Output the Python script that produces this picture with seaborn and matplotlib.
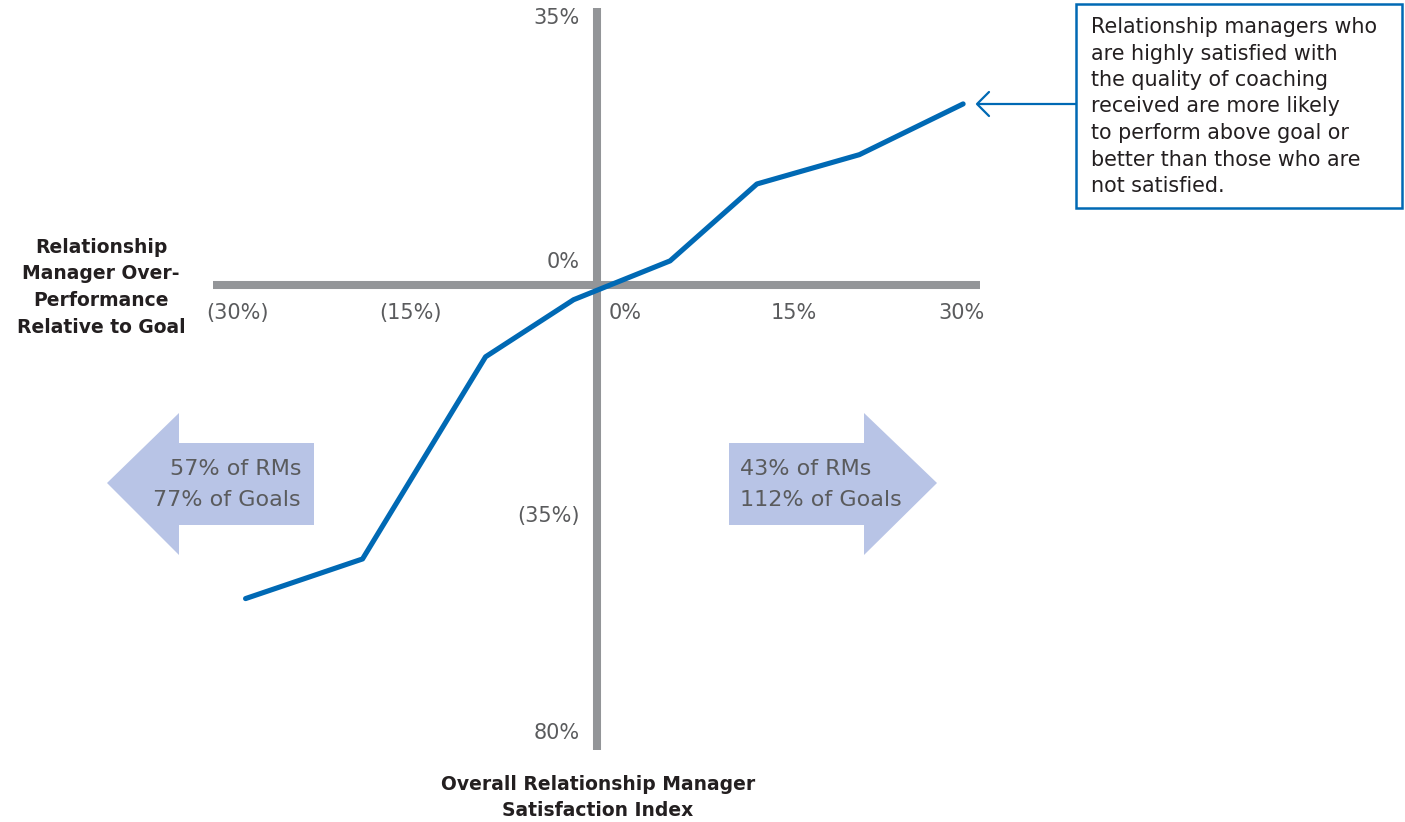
import matplotlib
matplotlib.use("Agg")
import matplotlib.pyplot as plt
import pandas as pd
import seaborn as sns
from matplotlib.patches import Polygon, Rectangle

# Satisfaction index (x, %) against over-performance relative to goal (y, %)
satisfaction = [-29.1, -19.4, -9.2, -1.9, 6.1, 13.3, 21.8, 30.4]
over_performance = [-39.5, -34.5, -9.0, -1.8, 3.1, 12.8, 16.5, 22.9]

x_tick_labels = ["(30%)", "(15%)", "0%", "15%", "30%"]
y_tick_labels = ["35%", "0%", "(35%)", "80%"]

left_group = ["57% of RMs", "77% of Goals"]
right_group = ["43% of RMs", "112% of Goals"]

y_title = ["Relationship", "Manager Over-", "Performance", "Relative to Goal"]
x_title = ["Overall Relationship Manager", "Satisfaction Index"]

callout_lines = [
    "Relationship managers who",
    "are highly satisfied with",
    "the quality of coaching",
    "received are more likely",
    "to perform above goal or",
    "better than those who are",
    "not satisfied.",
]

# ---- layout (pixels of the 1405 x 822 canvas) ----
W, H = 1405, 822
XLIM = (-31.8, 31.8)
YLIM = (-58.6, 35.0)
x_label_pos = [-29.8, -15.4, 2.4, 16.4, 30.3]
y_label_pos = [33.7, 2.9, -29.1, -56.4]

BLUE = "#0069b4"
GREY = "#939598"
ARROW_FILL = "#b8c4e6"
TEXT = "#231f20"
NUM = "#5a5b5d"

sns.set_theme(style="white")
plt.rcParams["font.family"] = ["DejaVu Sans"]

fig = plt.figure(figsize=(W / 100, H / 100), dpi=100)
fig.patch.set_facecolor("white")

ax = fig.add_axes([213 / W, (H - 750) / H, (980 - 213) / W, (750 - 8) / H])
ax.set_xlim(*XLIM)
ax.set_ylim(*YLIM)
ax.axis("off")

# quadrant axes
ax.plot(XLIM, [0, 0], color=GREY, lw=5.8, solid_capstyle="butt", zorder=1, clip_on=False)
ax.plot([0, 0], YLIM, color=GREY, lw=5.8, solid_capstyle="butt", zorder=1, clip_on=False)

df = pd.DataFrame({"satisfaction": satisfaction, "over_performance": over_performance})
sns.lineplot(data=df, x="satisfaction", y="over_performance", ax=ax, sort=False,
             color=BLUE, lw=3.7, zorder=3, clip_on=False)

for lab, xp in zip(x_tick_labels, x_label_pos):
    ax.text(xp, -3.5, lab, ha="center", va="center", fontsize=15, color=NUM)
for lab, yp in zip(y_tick_labels, y_label_pos):
    ax.text(-1.37, yp, lab, ha="right", va="center", fontsize=15, color=NUM)

# overlay in pixel coordinates for annotations
ov = fig.add_axes([0, 0, 1, 1])
ov.set_xlim(0, W)
ov.set_ylim(H, 0)
ov.axis("off")

left_arrow = [(107, 483), (179, 413), (179, 443), (314, 443), (314, 525),
              (179, 525), (179, 555)]
right_arrow = [(729, 443), (864, 443), (864, 413), (937, 483), (864, 555),
               (864, 525), (729, 525)]
ov.add_patch(Polygon(left_arrow, closed=True, facecolor=ARROW_FILL, edgecolor="none"))
ov.add_patch(Polygon(right_arrow, closed=True, facecolor=ARROW_FILL, edgecolor="none"))

for i, line in enumerate(left_group):
    ov.text(301, 469 + 31 * i, line, ha="right", va="center", fontsize=16, color=NUM)
for i, line in enumerate(right_group):
    ov.text(740, 469 + 31 * i, line, ha="left", va="center", fontsize=16, color=NUM)

for i, line in enumerate(y_title):
    ov.text(101, 247 + 26.7 * i, line, ha="center", va="center", fontsize=13.5,
            color=TEXT, fontweight="bold")
for i, line in enumerate(x_title):
    ov.text(598, 784 + 26.5 * i, line, ha="center", va="center", fontsize=13.5,
            color=TEXT, fontweight="bold")

# callout box with pointer
ov.add_patch(Rectangle((1076, 4), 326, 204, facecolor="white", edgecolor=BLUE, lw=1.8))
for i, line in enumerate(callout_lines):
    ov.text(1091, 27 + 26.5 * i, line, ha="left", va="center", fontsize=14.9,
            color=TEXT)
ov.plot([977, 1076], [104, 104], color=BLUE, lw=1.6, solid_capstyle="butt")
ov.plot([989, 977, 989], [92, 104, 116], color=BLUE, lw=1.6)

fig.savefig("out.png", dpi=100, facecolor="white")
